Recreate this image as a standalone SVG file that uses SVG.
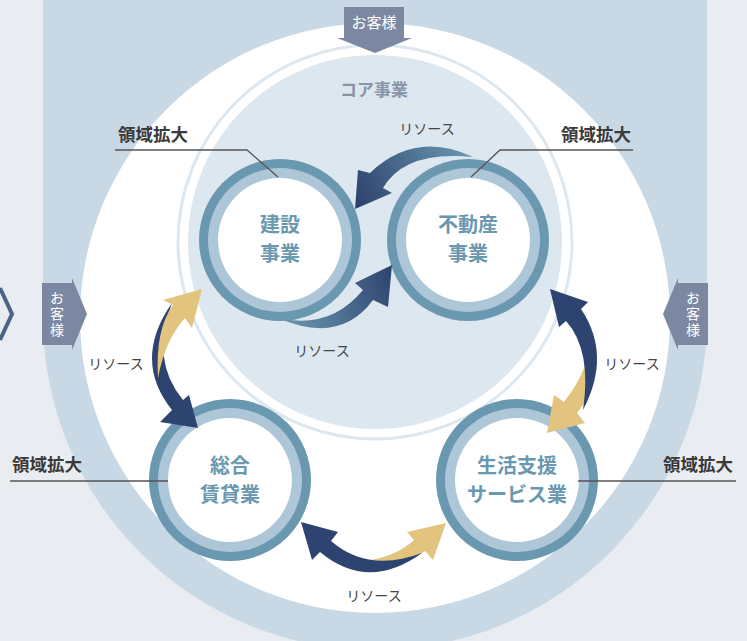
<svg xmlns="http://www.w3.org/2000/svg" width="747" height="641" viewBox="0 0 747 641">
<style>
.jp{font-family:"Noto Sans CJK JP","Noto Sans",sans-serif}
.node-t{font-size:20px;font-weight:700;fill:#6a98b0;text-anchor:middle}
.ring-o{fill:#6a98b0}
.ring-i{fill:#adc7d9}
.ring-w{fill:#ffffff}
.res{font-size:14px;fill:#444;text-anchor:middle}
.exp{font-size:17.5px;font-weight:700;fill:#3a3a3a;text-anchor:middle}
.lead{fill:none;stroke:#555;stroke-width:1.3}
.cust{fill:#7c88a1}
.cust-t{font-size:15px;fill:#fff;text-anchor:middle}
.cust-v{font-size:14px;fill:#fff;writing-mode:vertical-rl;letter-spacing:2px}
.navy{fill:#2e4470}
.gold{fill:#e3c47f}
</style>
<defs>
<linearGradient id="gA" gradientUnits="userSpaceOnUse" x1="470" y1="150" x2="360" y2="205">
<stop offset="0" stop-color="#6a98b0"/><stop offset="1" stop-color="#2e4470"/>
</linearGradient>
<linearGradient id="gB" gradientUnits="userSpaceOnUse" x1="280" y1="320" x2="390" y2="268">
<stop offset="0" stop-color="#6a98b0"/><stop offset="1" stop-color="#2e4470"/>
</linearGradient>
</defs>
<rect x="0" y="0" width="747" height="641" fill="#e9edf1"/>
<g id="background">
<rect x="43" y="0" width="664" height="318" fill="#c8d8e5"/>
<circle cx="375" cy="318" r="332" fill="#c8d8e5"/>
<circle cx="375" cy="318" r="295" fill="#ffffff"/>
<circle cx="375" cy="242" r="197" fill="none" stroke="#dde7ef" stroke-width="3"/>
<circle cx="375" cy="242" r="187" fill="#dde7ef"/>
<polyline points="0,288 12,314 0,340" fill="none" stroke="#4b6385" stroke-width="4"/>
</g>
<g id="customer-top">
<path class="cust" d="M344,7 H404 V38 H412 L375,53 L337,38 H344 Z"/>
<text class="jp cust-t" x="374" y="28">お客様</text>
</g>
<g id="customer-left">
<path class="cust" d="M42,283 H72 V278 L87,314 L72,350 V345 H42 Z"/>
<text class="jp cust-v" x="57" y="291">お客様</text>
</g>
<g id="customer-right">
<path class="cust" d="M708,283 H678 V278 L663,314 L678,350 V345 H708 Z"/>
<text class="jp cust-v" x="693" y="291">お客様</text>
</g>
<text class="jp" x="374" y="96" font-size="17" font-weight="700" fill="#8a94a8" text-anchor="middle">コア事業</text>
<g id="node-kensetsu">
<circle class="ring-o" cx="280" cy="240" r="81"/>
<circle class="ring-i" cx="280" cy="240" r="72"/>
<circle class="ring-w" cx="280" cy="240" r="62"/>
<text class="jp node-t" x="280" y="232">建設</text>
<text class="jp node-t" x="280" y="261">事業</text>
</g>
<g id="node-fudosan">
<circle class="ring-o" cx="468" cy="240" r="81"/>
<circle class="ring-i" cx="468" cy="240" r="72"/>
<circle class="ring-w" cx="468" cy="240" r="62"/>
<text class="jp node-t" x="468" y="232">不動産</text>
<text class="jp node-t" x="468" y="261">事業</text>
</g>
<g id="node-chintai">
<circle class="ring-o" cx="230" cy="480" r="81"/>
<circle class="ring-i" cx="230" cy="480" r="72"/>
<circle class="ring-w" cx="230" cy="480" r="62"/>
<text class="jp node-t" x="230" y="473">総合</text>
<text class="jp node-t" x="230" y="502">賃貸業</text>
</g>
<g id="node-seikatsu">
<circle class="ring-o" cx="517" cy="480" r="81"/>
<circle class="ring-i" cx="517" cy="480" r="72"/>
<circle class="ring-w" cx="517" cy="480" r="62"/>
<text class="jp node-t" x="517" y="473">生活支援</text>
<text class="jp node-t" x="517" y="502">サービス業</text>
</g>
<g id="connectors">
<path fill="url(#gA)" d="M473,157 Q415,130 370,173 L358,170 L355,209 L392,193 L383,188 Q405,150 473,157 Z"/>
<path fill="url(#gB)" d="M278,318 Q340,345 373,300 L388,307 L392,265 L355,283 L363,290 Q330,330 278,318 Z"/>
<path class="navy" d="M172,303 Q132,360 172,410 L160,422 L198,428 L189,395 L183,400 Q150,360 172,303 Z"/>
<path class="gold" d="M158,378 Q155,330 173,305 L163,300 L202,289 L192,328 L185,318 Q165,340 158,378 Z"/>
<path class="gold" d="M547,433 L554,395 L564,402 Q585,375 590,348 Q600,385 577,413 L585,423 Z"/>
<path class="navy" d="M550,289 L588,302 L581,309 Q612,355 583,410 Q592,350 566,321 L559,327 Z"/>
<path class="gold" d="M446,523 L433,560 L425,551 Q395,573 358,562 Q395,558 414,540 L407,532 Z"/>
<path class="navy" d="M301,522 L338,532 L331,541 Q368,573 422,553 Q368,592 320,552 L312,560 Z"/>
<polyline class="lead" points="115,150 247,150 278,177"/>
<polyline class="lead" points="633,150 500,150 471,177"/>
<line class="lead" x1="10" y1="481" x2="168" y2="481"/>
<line class="lead" x1="578" y1="481" x2="736" y2="481"/>
</g>
<g id="labels">
<text class="jp res" x="427" y="134">リソース</text>
<text class="jp res" x="322" y="356">リソース</text>
<text class="jp res" x="116" y="369">リソース</text>
<text class="jp res" x="632" y="369">リソース</text>
<text class="jp res" x="374" y="601">リソース</text>
<text class="jp exp" x="153" y="141">領域拡大</text>
<text class="jp exp" x="596" y="141">領域拡大</text>
<text class="jp exp" x="47" y="471">領域拡大</text>
<text class="jp exp" x="698" y="471">領域拡大</text>
</g>
</svg>
